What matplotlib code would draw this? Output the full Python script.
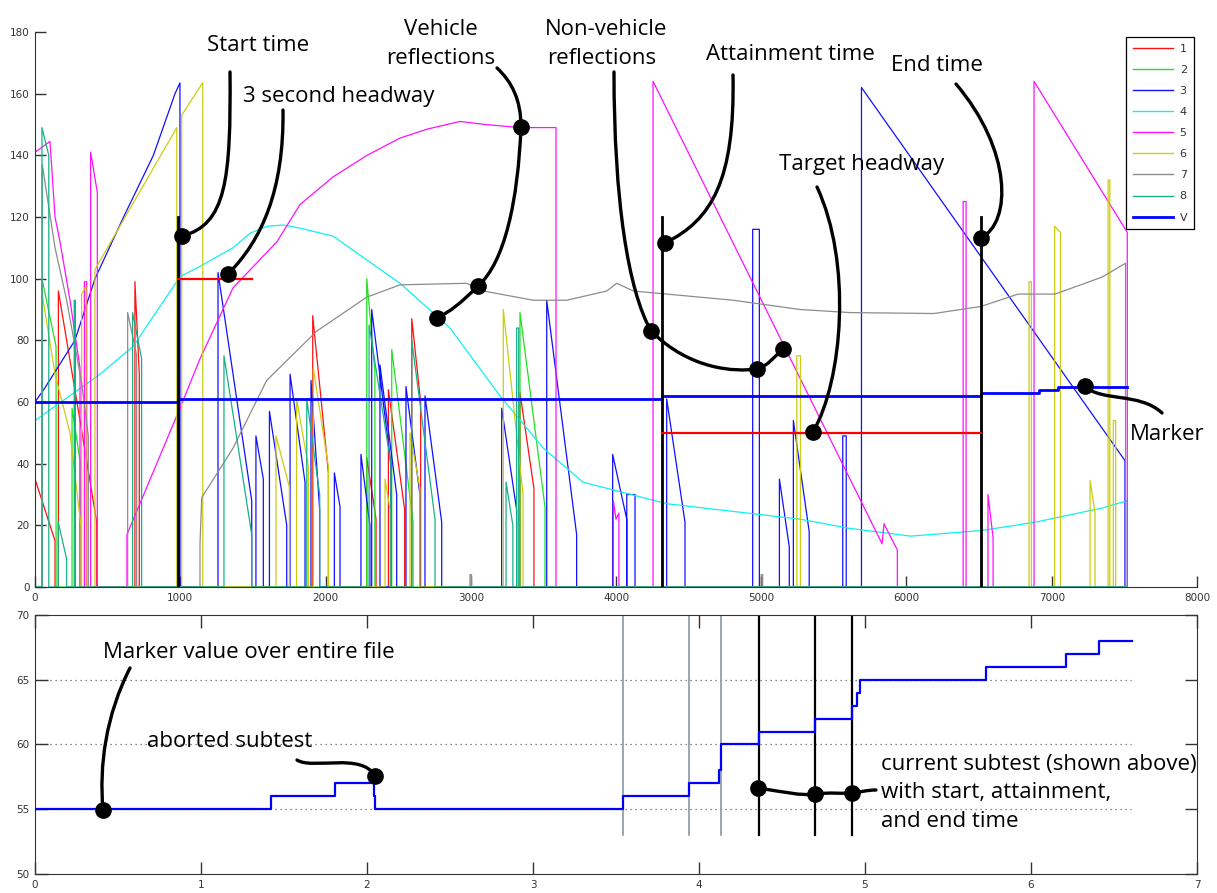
import numpy as np
import matplotlib
matplotlib.use('Agg')
import matplotlib.pyplot as plt
from matplotlib.path import Path
from matplotlib.patches import PathPatch
from matplotlib.lines import Line2D

# ---------------- data (top panel: sample index vs headway) ----------------
# each track: list of pieces; a piece is a run of (x, y) points, the track sits at 0 elsewhere
track1 = [[(0, 35), (138, 15)],
          [(161, 96), (310, 54), (425, 21)],
          [(688, 99), (718, 69)],
          [(1912, 88), (2020, 37)],
          [(2284, 42), (2348, 22)],
          [(2433, 64), (2545, 25)],
          [(2594, 87), (2655, 60)],
          [(3339, 63), (3435, 32)]]
track2 = [[(48, 100), (145, 78)],
          [(255, 58), (310, 41)],
          [(2284, 100), (2340, 70)],
          [(2456, 77), (2603, 21)],
          [(3339, 89), (3511, 26)]]
track3 = [[(0, 60), (60, 64), (275, 80), (413, 100), (610, 120), (815, 140), (964, 160),
           (998, 163.5)],
          [(1260, 102), (1492, 28)],
          [(1521, 49), (1572, 35)],
          [(1614, 57), (1733, 20)],
          [(1756, 69), (1859, 34)],
          [(1900, 67), (1960, 25)],
          [(2061, 37), (2100, 26)],
          [(2244, 43), (2306, 20)],
          [(2318, 90), (2450, 40)],
          [(2375, 72), (2490, 30)],
          [(2554, 65), (2650, 30)],
          [(2685, 62), (2800, 21)],
          [(3213, 58), (3316, 25)],
          [(3523, 93), (3729, 17)],
          [(3977, 43), (4074, 22)],
          [(4074, 30), (4131, 30)],
          [(4349, 61), (4475, 21)],
          [(4941, 116), (4987, 116)],
          [(5125, 35), (5193, 13)],
          [(5221, 54), (5330, 18)],
          [(5561, 49), (5585, 49)],
          [(5690, 162), (7504, 41)]]
track4 = [[(0, 54), (447, 69), (675, 78), (998, 100.6), (1136, 104), (1363, 110),
           (1480, 114.7), (1597, 117), (1710, 117.4), (1824, 116.4), (1962, 114.8),
           (2052, 113.8), (2286, 106), (2513, 98.5), (2857, 84), (3201, 62), (3500, 45),
           (3773, 34), (4351, 27), (5267, 22), (5611, 19), (6029, 16.5), (6513, 18.3),
           (6885, 21), (7346, 25.6), (7520, 28)]]
track5 = [[(0, 141), (103, 144.5), (138, 120), (172, 112), (241, 93), (310, 71)],
          [(340, 99), (356, 99)],
          [(383, 141), (429, 128)],
          [(633, 17), (998, 58), (1136, 74), (1363, 97), (1666, 112), (1824, 124),
           (2052, 133), (2286, 140), (2513, 145.6), (2700, 148.5), (2926, 151),
           (3100, 150), (3339, 149), (3587, 149)],
          [(3982, 28), (4000, 22), (4020, 24)],
          [(4255, 164), (5832, 14), (5845, 20.5), (5937, 12)],
          [(6390, 125), (6410, 125)],
          [(6561, 30), (6596, 16)],
          [(6878, 164), (7520, 115)]]
track6 = [[(46, 96), (138, 69), (241, 50), (317, 19.5)],
          [(321, 95), (351, 97.5)],
          [(413, 103), (976, 149)],
          [(1010, 153), (1155, 163.6)],
          [(1659, 49), (1751, 32.5)],
          [(1801, 61), (1882, 39)],
          [(1916, 71), (2020, 39)],
          [(2410, 35), (2445, 25)],
          [(2582, 50), (2650, 32)],
          [(3224, 90), (3360, 30)],
          [(5245, 75), (5270, 75)],
          [(6844, 99), (6860, 99)],
          [(7020, 117), (7060, 115)],
          [(7264, 34.5), (7298, 24)],
          [(7388, 132), (7400, 132)],
          [(7424, 54), (7440, 54)]]
track7 = [[(50, 137), (138, 110), (218, 93), (322, 66), (367, 49)],
          [(638, 89), (700, 75)],
          [(1136, 14), (1148, 29), (1363, 45), (1595, 67), (1940, 83), (2284, 94),
           (2513, 98), (2972, 98.5), (3087, 96), (3431, 93), (3661, 93), (3936, 96),
           (4005, 98.5), (4120, 96), (4349, 95), (4808, 93), (5267, 90), (5611, 89),
           (6190, 88.7), (6513, 91), (6768, 95), (7023, 95), (7346, 100.5), (7508, 105)],
          [(2995, 4), (3005, 4)],
          [(4999, 4), (5010, 4)]]
track8 = [[(48, 149), (95, 140)],
          [(160, 21), (218, 9)],
          [(270, 93), (278, 93)],
          [(672, 89), (734, 74)],
          [(1301, 75), (1492, 17)],
          [(1871, 61), (1960, 30)],
          [(2300, 85), (2450, 40)],
          [(2594, 80), (2754, 22)],
          [(3243, 34), (3290, 20)],
          [(3316, 84), (3330, 84)]]
track_end = 7520

v_x = [0, 987, 4314, 6515, 6912, 7043, 7520]
v_y = [60, 61, 62, 63, 64, 65, 65]

start_time = 987
attain_time = 4314
end_time = 6515
headway3 = 100
headway3_end = 1497
target_headway = 50

track_labels = ['1', '2', '3', '4', '5', '6', '7', '8', 'V']
track_colors = ['#ff1010', '#22e022', '#1010ff', '#10f0f0', '#ff10ff', '#cccc10',
                '#8c8c8c', '#18b088', '#0000ff']

# ---------------- data (bottom panel: marker value over file) ----------------
marker_x = [0, 1.42, 1.81, 2.04, 2.05, 3.54, 3.94, 4.12, 4.13, 4.36, 4.70, 4.92,
            4.95, 4.97, 5.73, 6.21, 6.41, 6.61]
marker_y = [55, 56, 57, 56, 55, 56, 57, 58, 60, 61, 62, 63, 64, 65, 66, 67, 68, 68]
other_subtests = [3.54, 3.94, 4.13]
current_subtest = [4.36, 4.70, 4.92]
guide_levels = [55, 60, 65]
guide_end = 6.6


def track_xy(pieces, x_end):
    xs, ys = [0.0], [0.0]
    for p in pieces:
        px = [q[0] for q in p]
        py = [q[1] for q in p]
        xs += [px[0]] + px + [px[-1]]
        ys += [0.0] + py + [0.0]
    xs.append(x_end)
    ys.append(0.0)
    return xs, ys


W, H = 1217, 893
fig = plt.figure(figsize=(W / 100, H / 100), dpi=100)
fig.patch.set_facecolor('white')

tick_col = '#333333'

# ---------------- top panel ----------------
ax = fig.add_axes([35 / W, 1 - 587 / H, (1197 - 35) / W, (587 - 32) / H])
tracks = [track1, track2, track3, track4, track5, track6, track7, track8]
handles = []
for i, tr in enumerate(tracks):
    xs, ys = track_xy(tr, track_end)
    ax.plot(xs, ys, color=track_colors[i], lw=0.9, zorder=2 + i * 0.01)
    handles.append(Line2D([], [], color=track_colors[i], lw=1.0))
ax.step(v_x, v_y, where='post', color=track_colors[8], lw=2.0, zorder=4)
handles.append(Line2D([], [], color=track_colors[8], lw=2.0))

ax.plot([start_time, start_time], [0, 120], color='black', lw=2.0, zorder=5)
ax.plot([attain_time, attain_time], [0, 120], color='black', lw=2.0, zorder=5)
ax.plot([end_time, end_time], [0, 120], color='black', lw=2.0, zorder=5)
ax.plot([start_time, headway3_end], [headway3, headway3], color='#ff0000', lw=1.6, zorder=5)
ax.plot([attain_time, end_time], [target_headway, target_headway], color='#ff0000', lw=1.6, zorder=5)

ax.set_xlim(0, 8000)
ax.set_ylim(0, 180)
ax.set_xticks(np.arange(0, 8001, 1000))
ax.set_yticks(np.arange(0, 181, 20))
ax.spines['top'].set_visible(False)
ax.spines['right'].set_visible(False)
for s in ['left', 'bottom']:
    ax.spines[s].set_color(tick_col)
ax.tick_params(direction='in', length=8, width=1, colors=tick_col, labelsize=7.5, pad=4)
leg = ax.legend(handles, track_labels, loc='upper right', bbox_to_anchor=(0.9974, 0.991),
                fontsize=8, frameon=True, fancybox=False, edgecolor='black', framealpha=1,
                borderaxespad=0, handlelength=3.6, labelspacing=1.0, handletextpad=0.6,
                borderpad=0.6)
leg.get_frame().set_linewidth(0.9)
for t in leg.get_texts():
    t.set_color(tick_col)

# ---------------- bottom panel ----------------
ax2 = fig.add_axes([35 / W, 1 - 874 / H, (1197 - 35) / W, (874 - 615) / H])
for lv in guide_levels:
    ax2.plot([0, guide_end], [lv, lv], color='#556677', lw=0.9, ls=(0, (1, 3)), zorder=1)
for xv in other_subtests:
    ax2.plot([xv, xv], [53, 70], color='#8898a8', lw=1.2, zorder=2)
for xv in current_subtest:
    ax2.plot([xv, xv], [53, 70], color='black', lw=1.6, zorder=2)
ax2.step(marker_x, marker_y, where='post', color='#0000ff', lw=1.6, zorder=3)
ax2.set_xlim(0, 7)
ax2.set_ylim(50, 70)
ax2.set_xticks(np.arange(0, 8, 1))
ax2.set_yticks(np.arange(50, 71, 5))
for s in ax2.spines.values():
    s.set_color(tick_col)
ax2.tick_params(direction='in', length=9, width=1, colors=tick_col, labelsize=7.5,
                top=True, right=True, pad=4)

# ---------------- annotation overlay (pixel coordinates) ----------------
ov = fig.add_axes([0, 0, 1, 1], zorder=10)
ov.set_xlim(0, W)
ov.set_ylim(H, 0)
ov.axis('off')
ov.patch.set_alpha(0)


def bez(pts):
    codes = [Path.MOVETO] + [Path.CURVE4] * (len(pts) - 1)
    ov.add_patch(PathPatch(Path(pts, codes), fill=False, lw=2.4, edgecolor='black',
                           capstyle='round', joinstyle='round'))


curves = [
    [(230, 72), (231, 180), (226, 225), (182, 236)],
    [(283, 110), (284, 190), (262, 240), (228, 274)],
    [(497, 68), (512, 82), (521, 100), (521, 127), (518, 200), (505, 262), (478, 286),
     (462, 302), (450, 312), (437, 318)],
    [(614, 72), (614, 200), (628, 290), (651, 331), (690, 370), (735, 372), (757, 369),
     (768, 366), (775, 356), (783, 349)],
    [(733, 75), (735, 180), (712, 220), (665, 243)],
    [(956, 84), (1012, 150), (1012, 222), (981, 238)],
    [(817, 187), (852, 262), (843, 380), (813, 432)],
    [(1085, 386), (1100, 402), (1140, 392), (1162, 413)],
    [(130, 668), (106, 715), (99, 765), (103, 810)],
    [(297, 760), (312, 770), (362, 752), (375, 776)],
    [(758, 788), (785, 792), (800, 796), (815, 794), (830, 792), (842, 794), (852, 793),
     (860, 792), (868, 790), (876, 790)],
]
for c in curves:
    bez(c)
dots = [(182, 236), (228, 274), (521, 127), (478, 286), (437, 318), (651, 331), (757, 369),
        (783, 349), (665, 243), (981, 238), (813, 432), (1085, 386), (103, 810), (375, 776),
        (758, 788), (815, 794), (852, 793)]
ov.plot([d[0] for d in dots], [d[1] for d in dots], 'o', color='black', ms=11, zorder=11)

fam = ['Open Sans', 'DejaVu Sans']
fs = 16
texts = [
    (207, 51, 'Start time', 'left'),
    (243, 102, '3 second headway', 'left'),
    (441, 35, 'Vehicle', 'center'),
    (441, 64, 'reflections', 'center'),
    (606, 35, 'Non-vehicle', 'center'),
    (602, 64, 'reflections', 'center'),
    (706, 60, 'Attainment time', 'left'),
    (891, 71, 'End time', 'left'),
    (779, 170, 'Target headway', 'left'),
    (1130, 440, 'Marker', 'left'),
    (103, 658, 'Marker value over entire file', 'left'),
    (147, 747, 'aborted subtest', 'left'),
    (881, 770, 'current subtest (shown above)', 'left'),
    (881, 798, 'with start, attainment,', 'left'),
    (881, 827, 'and end time', 'left'),
]
for x, y, s, ha in texts:
    ov.text(x, y, s, ha=ha, va='baseline', fontsize=fs, family=fam, color='black', zorder=12)

fig.savefig('out.png', dpi=100, facecolor='white')
